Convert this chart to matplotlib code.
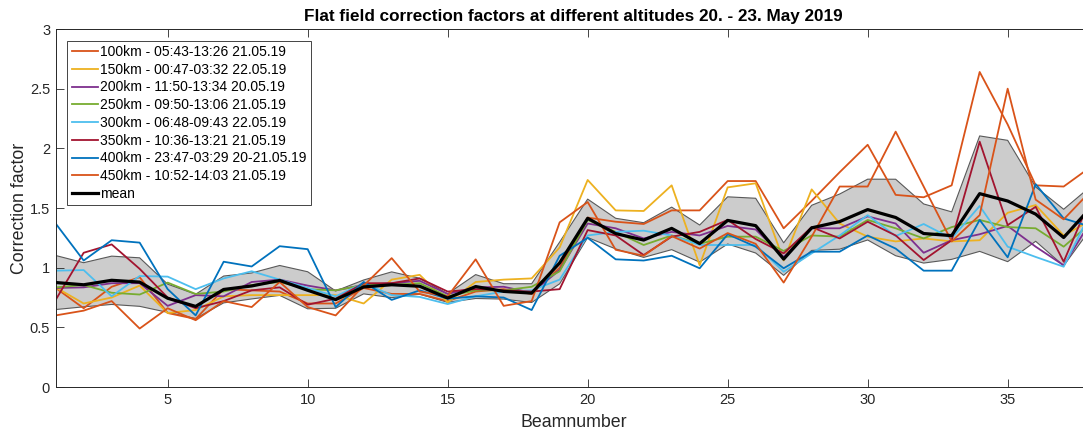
import numpy as np
import matplotlib
matplotlib.use("Agg")
import matplotlib.pyplot as plt
from matplotlib.ticker import FormatStrFormatter

plt.rcParams['font.family'] = ['Liberation Sans', 'DejaVu Sans']

# beam numbers and correction factors per altitude run
beams = np.arange(1, 39)

labels = [
    "100km - 05:43-13:26 21.05.19",
    "150km - 00:47-03:32 22.05.19",
    "200km - 11:50-13:34 20.05.19",
    "250km - 09:50-13:06 21.05.19",
    "300km - 06:48-09:43 22.05.19",
    "350km - 10:36-13:21 21.05.19",
    "400km - 23:47-03:29 20-21.05.19",
    "450km - 10:52-14:03 21.05.19",
]

cf_100 = [0.83, 0.66, 0.84, 0.92, 0.62, 0.57, 0.82, 0.81, 0.80, 0.70, 0.70, 0.83, 0.78,
          0.78, 0.72, 0.80, 0.82, 0.78, 1.00, 1.42, 1.385, 1.366, 1.48, 1.48, 1.726, 1.726,
          1.33, 1.56, 1.80, 2.03, 1.61, 1.59, 1.69, 2.64, 2.20, 1.69, 1.68, 1.85]
cf_150 = [0.835, 0.70, 0.75, 0.85, 0.62, 0.645, 0.76, 0.77, 0.77, 0.77, 0.77, 0.70, 0.90,
          0.94, 0.71, 0.88, 0.90, 0.91, 1.17, 1.735, 1.48, 1.475, 1.69, 1.02, 1.673, 1.707,
          1.06, 1.656, 1.37, 1.26, 1.22, 1.245, 1.22, 1.23, 1.46, 1.525, 1.27, 1.40]
cf_200 = [0.83, 0.835, 0.87, 0.87, 0.68, 0.77, 0.76, 0.88, 0.90, 0.85, 0.81, 0.855, 0.87,
          0.89, 0.78, 0.835, 0.84, 0.79, 0.98, 1.37, 1.33, 1.245, 1.30, 1.27, 1.35, 1.32,
          1.09, 1.33, 1.33, 1.43, 1.37, 1.125, 1.23, 1.28, 1.35, 1.176, 1.02, 1.40]
cf_250 = [0.835, 0.855, 0.79, 0.775, 0.875, 0.78, 0.80, 0.855, 0.88, 0.82, 0.81, 0.855, 0.855,
          0.87, 0.76, 0.81, 0.81, 0.84, 0.97, 1.40, 1.30, 1.19, 1.27, 1.20, 1.26, 1.26,
          1.14, 1.27, 1.26, 1.40, 1.33, 1.245, 1.34, 1.40, 1.34, 1.33, 1.176, 1.38]
cf_300 = [0.975, 0.98, 0.76, 0.93, 0.925, 0.82, 0.91, 0.97, 0.90, 0.83, 0.76, 0.87, 0.77,
          0.755, 0.695, 0.76, 0.80, 0.81, 0.90, 1.27, 1.30, 1.31, 1.27, 1.19, 1.19, 1.19,
          0.966, 1.12, 1.27, 1.44, 1.265, 1.366, 1.245, 1.517, 1.176, 1.09, 1.008, 1.48]
cf_350 = [0.73, 1.125, 1.195, 0.99, 0.75, 0.66, 0.72, 0.81, 0.835, 0.69, 0.74, 0.87, 0.87,
          0.91, 0.80, 0.82, 0.81, 0.80, 0.82, 1.315, 1.27, 1.106, 1.26, 1.30, 1.40, 1.24,
          1.12, 1.34, 1.245, 1.385, 1.27, 1.064, 1.23, 2.056, 1.357, 1.51, 1.05, 1.60]
cf_400 = [1.37, 1.06, 1.23, 1.21, 0.82, 0.60, 1.05, 1.01, 1.18, 1.155, 0.67, 0.88, 0.73,
          0.81, 0.74, 0.76, 0.75, 0.645, 1.10, 1.25, 1.07, 1.06, 1.10, 0.995, 1.28, 1.176,
          0.995, 1.134, 1.134, 1.27, 1.16, 0.975, 0.975, 1.40, 1.087, 1.70, 1.413, 1.34]
cf_450 = [0.60, 0.64, 0.72, 0.49, 0.66, 0.56, 0.72, 0.67, 0.88, 0.67, 0.60, 0.85, 1.08,
          0.80, 0.76, 1.07, 0.68, 0.72, 1.38, 1.55, 1.15, 1.10, 1.265, 1.16, 1.29, 1.20,
          0.875, 1.26, 1.68, 1.68, 2.14, 1.68, 1.22, 1.44, 2.50, 1.57, 1.405, 1.65]

series = [cf_100, cf_150, cf_200, cf_250, cf_300, cf_350, cf_400, cf_450]

# matlab default line colours, starting at the second one
colors = [(0.850, 0.325, 0.098), (0.929, 0.694, 0.125), (0.494, 0.184, 0.556),
          (0.466, 0.674, 0.188), (0.301, 0.745, 0.933), (0.635, 0.078, 0.184),
          (0.000, 0.447, 0.741), (0.850, 0.325, 0.098)]

data = np.array(series)
mean = data.mean(axis=0)
std = data.std(axis=0, ddof=1)

fig = plt.figure(figsize=(10.83, 4.33), dpi=100)
ax = fig.add_axes([0.0514, 0.1062, 0.9566, 0.8268])

# mean +/- std band
ax.fill_between(beams, mean - std, mean + std, facecolor=(0.8, 0.8, 0.8),
                edgecolor='none', zorder=1)
ax.plot(beams, mean + std, color=(0.35, 0.35, 0.35), lw=0.8, zorder=1.5)
ax.plot(beams, mean - std, color=(0.35, 0.35, 0.35), lw=0.8, zorder=1.5)

for vals, c, lab in zip(series, colors, labels):
    ax.plot(beams, vals, color=c, lw=1.3, label=lab, zorder=2)
ax.plot(beams, mean, color='black', lw=2.3, label='mean', zorder=3)

ax.set_xlim(1, 38)
ax.set_ylim(0, 3)
ax.set_xticks([5, 10, 15, 20, 25, 30, 35])
ax.set_yticks(np.arange(0, 3.01, 0.5))
ax.yaxis.set_major_formatter(FormatStrFormatter('%g'))

dark = (0.15, 0.15, 0.15)
for s in ax.spines.values():
    s.set_color(dark)
    s.set_linewidth(0.7)
ax.tick_params(direction='in', length=5.5, width=0.6, colors=dark, labelsize=10.5,
               top=True, right=True, pad=4)

ax.set_xlabel('Beamnumber', fontsize=12.8, color=dark, labelpad=5)
ax.set_ylabel('Correction factor', fontsize=12.8, color=dark, labelpad=1)
ax.set_title('Flat field correction factors at different altitudes 20. - 23. May 2019',
             fontsize=12.3, fontweight='bold', pad=6)

leg = ax.legend(loc='upper left', fontsize=10, frameon=True, fancybox=False,
                framealpha=1, edgecolor=dark, borderaxespad=0.85, handlelength=1.9,
                handletextpad=0.15, labelspacing=0.27, borderpad=0.3)
leg.get_frame().set_linewidth(0.6)

fig.savefig('out.png', dpi=100)
